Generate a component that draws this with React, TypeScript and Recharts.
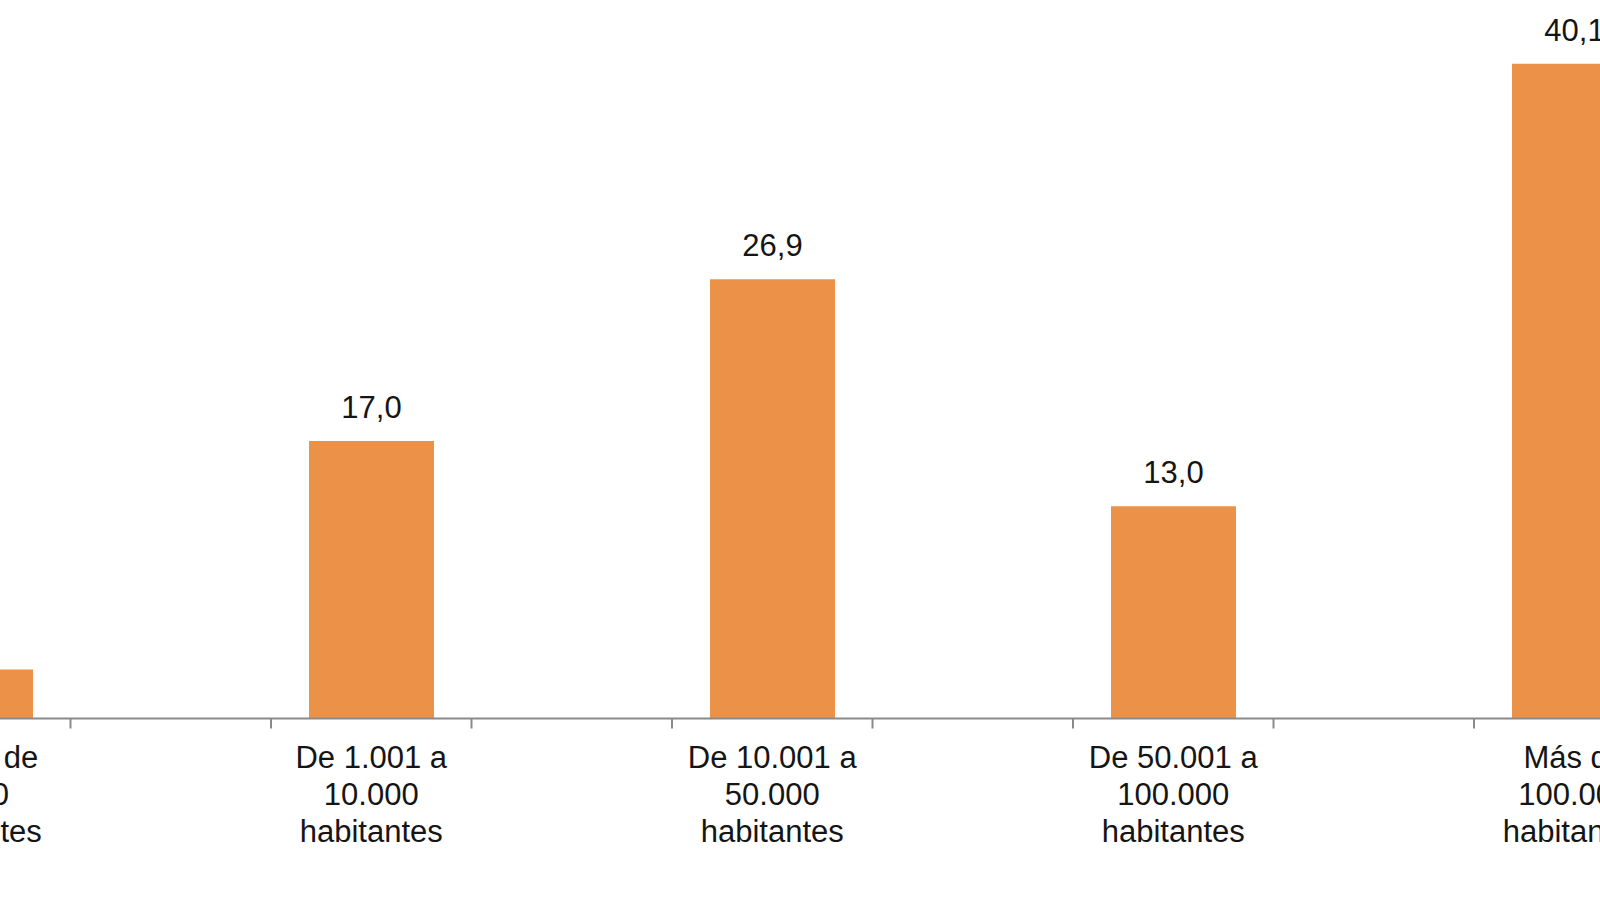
import * as React from "react"
import { BarChart, Bar, XAxis, YAxis, LabelList } from "recharts"

// categories (tamaño de municipio) and their share in %
const groups = [
  "Menos de 1.000 habitantes",
  "De 1.001 a 10.000 habitantes",
  "De 10.001 a 50.000 habitantes",
  "De 50.001 a 100.000 habitantes",
  "Más de 100.000 habitantes",
]
const groupLines = [
  ["Menos de", "1.000", "habitantes"],
  ["De 1.001 a", "10.000", "habitantes"],
  ["De 10.001 a", "50.000", "habitantes"],
  ["De 50.001 a", "100.000", "habitantes"],
  ["Más de", "100.000", "habitantes"],
]
const values = [3.0, 17.0, 26.9, 13.0, 40.1]
const yDomain = [0, 44]

// the original chart leaves an empty slot between every bar
const data = groups.flatMap((g, i) => {
  const row = { name: g, value: values[i], idx: i }
  return i < groups.length - 1 ? [row, { name: `gap-${i}`, value: null, idx: -1 }] : [row]
})

const BAR_COLOR = "#eb9248"
const AXIS_COLOR = "#8a8a8a"
const FONT = "'Liberation Sans', Arial, sans-serif"

const BAND = 200.5
const PLOT_W = BAND * data.length
const PLOT_H = 718.5
const AXIS_H = 170

const CategoryTick = (props: any) => {
  const { x, y, index } = props
  const row = data[index]
  const lines = row && row.idx >= 0 ? groupLines[row.idx] : []
  const isLast = index === data.length - 1
  return (
    <g>
      <line x1={x - BAND / 2} y1={y} x2={x - BAND / 2} y2={y + 10} stroke={AXIS_COLOR} strokeWidth={2} />
      {isLast && (
        <line x1={x + BAND / 2} y1={y} x2={x + BAND / 2} y2={y + 10} stroke={AXIS_COLOR} strokeWidth={2} />
      )}
      {lines.map((l, i) => (
        <text
          key={i}
          x={x}
          y={y + 49 + i * 37}
          textAnchor="middle"
          fontSize={31}
          fontFamily={FONT}
          fill="#151515"
        >
          {l}
        </text>
      ))}
    </g>
  )
}

export default function App() {
  return (
    <div style={{ position: "fixed", left: 0, top: 0, width: 1600, height: 900, overflow: "hidden", background: "#fff" }}>
      <div style={{ position: "absolute", left: -130.25, top: -0.5 }}>
        <BarChart
          width={PLOT_W}
          height={PLOT_H + AXIS_H}
          data={data}
          margin={{ top: 0, right: 0, bottom: 0, left: 0 }}
        >
          <XAxis
            dataKey="name"
            interval={0}
            height={AXIS_H}
            tickLine={false}
            tickSize={0}
            tickMargin={0}
            axisLine={{ stroke: AXIS_COLOR, strokeWidth: 2 }}
            tick={<CategoryTick />}
          />
          <YAxis hide domain={yDomain} />
          <Bar dataKey="value" fill={BAR_COLOR} barSize={125} isAnimationActive={false}>
            <LabelList
              dataKey="value"
              position="top"
              offset={23}
              formatter={(v: any) => (v == null ? "" : Number(v).toFixed(1).replace(".", ","))}
              style={{ fontSize: 31, fontFamily: FONT, fill: "#151515" }}
            />
          </Bar>
        </BarChart>
      </div>
    </div>
  )
}
